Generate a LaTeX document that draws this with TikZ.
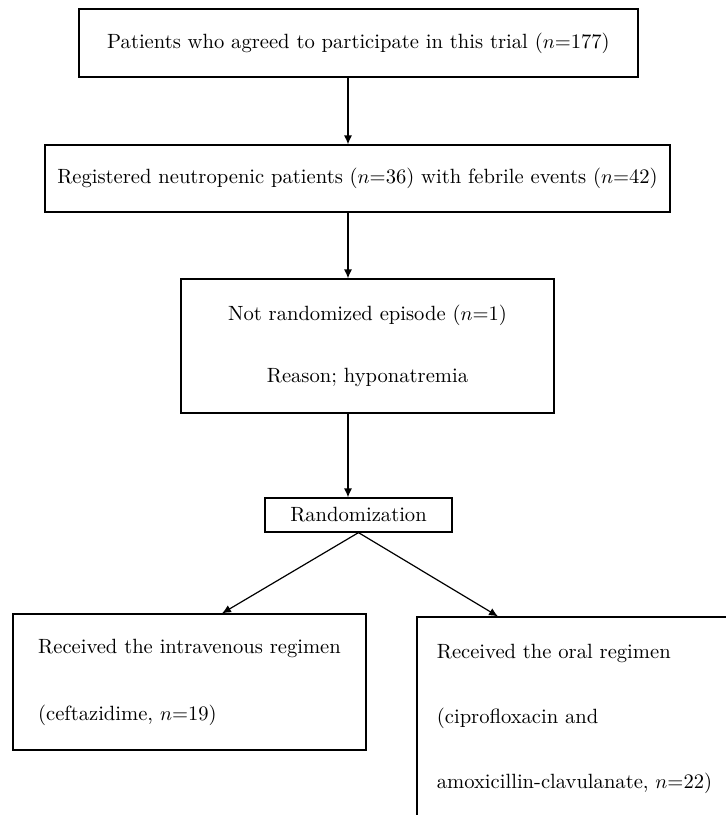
\documentclass[tikz,border=0pt]{standalone}
\usepackage{amsmath}
\usepackage{tikz}
\usetikzlibrary{arrows.meta}

\tikzset{
  box/.style={draw, line width=0.6pt, inner sep=0pt, align=center,
    font=\fontsize{10.3}{12}\selectfont},
  arr/.style={-{Latex[length=4.5pt,width=4pt]}, line width=0.6pt}
}

\begin{document}
\begin{tikzpicture}[x=0.5pt, y=-0.5pt]
  \useasboundingbox (0,0) rectangle (726,815);
  \clip (0,0) rectangle (726,815);

  % main column
  \node[box, minimum width=279.5pt, minimum height=34pt] (agreed) at (358.5,43)
    {Patients who agreed to participate in this trial ($n$=177)};
  \node[box, minimum width=312.5pt, minimum height=33.5pt] (registered) at (357.5,178.5)
    {Registered neutropenic patients ($n$=36) with febrile events ($n$=42)};
  \node[box, minimum width=186.5pt, minimum height=67pt] (excluded) at (367.5,346)
    {Not randomized episode ($n$=1)\\[19pt]Reason; hyponatremia};
  \node[box, minimum width=93.5pt, minimum height=17pt] (rand) at (358.5,515)
    {Randomization};

  % the two arms
  \node[box, align=left, minimum width=176.5pt, minimum height=68pt] (iv) at (189.5,682)
    {Received the intravenous regimen\\[21.5pt](ceftazidime, $n$=19)};
  \node[box, align=left, minimum width=157.5pt, minimum height=101.5pt] (oral) at (574.5,718.5)
    {Received the oral regimen\\[20.5pt](ciprofloxacin and\\[20.5pt]amoxicillin-clavulanate, $n$=22)};

  % arrows
  \coordinate (spine) at (348,0);
  \coordinate (ivtip) at (222,0);
  \coordinate (oraltip) at (498,0);
  \draw[arr] (agreed.south -| spine) -- (registered.north -| spine);
  \draw[arr] (registered.south -| spine) -- (excluded.north -| spine);
  \draw[arr] (excluded.south -| spine) -- (rand.north -| spine);
  \draw[arr] (rand.south) -- (iv.north -| ivtip);
  \draw[arr] (rand.south) -- (oral.north -| oraltip);
\end{tikzpicture}
\end{document}
